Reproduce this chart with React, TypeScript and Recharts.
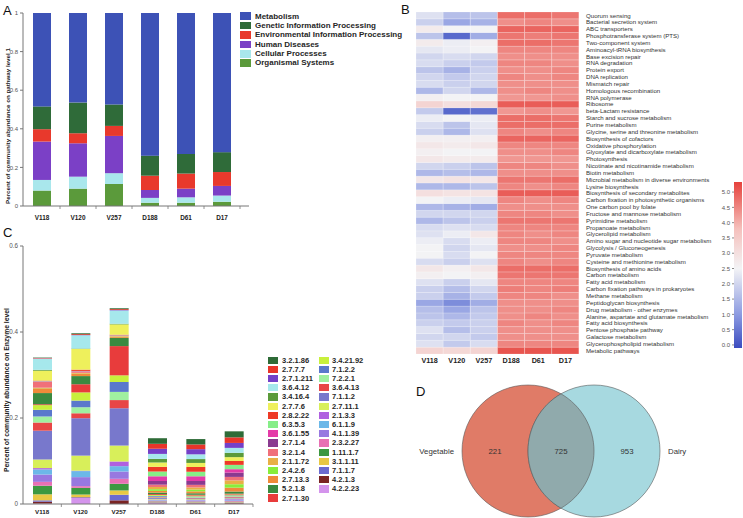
import React from 'react';
import { BarChart, Bar, XAxis, YAxis, Cell, ScatterChart, Scatter } from 'recharts';

const FONT = '"Liberation Sans", Arial, Helvetica, sans-serif';

const SAMPLES = ['V118', 'V120', 'V257', 'D188', 'D61', 'D17'];

// ---- A: pathway level 1 ----
const L1_NAMES = [
  'Metabolism',
  'Genetic Information Processing',
  'Environmental Information Processing',
  'Human Diseases',
  'Cellular Processes',
  'Organismal Systems',
];
const L1_COLORS = ['#3d52b6', '#2f6b39', '#e8392c', '#7b40c6', '#a9e7ec', '#5b9a3b'];
const METABOLISM = [0.484, 0.464, 0.474, 0.739, 0.73, 0.721];
const GENETIC = [0.118, 0.159, 0.111, 0.104, 0.102, 0.103];
const ENVIRONMENTAL = [0.064, 0.052, 0.052, 0.074, 0.078, 0.072];
const HUMAN = [0.199, 0.173, 0.193, 0.041, 0.045, 0.05];
const CELLULAR = [0.055, 0.062, 0.056, 0.025, 0.028, 0.032];
const ORGANISMAL = [0.08, 0.09, 0.114, 0.017, 0.017, 0.022];
const L1_SERIES = [METABOLISM, GENETIC, ENVIRONMENTAL, HUMAN, CELLULAR, ORGANISMAL];
const L1_TICKS = [0, 0.2, 0.4, 0.6, 0.8, 1];

// ---- B: heatmap of level 3 pathways ----
const PATHWAYS = [
  'Quorum sensing',
  'Bacterial secretion system',
  'ABC transporters',
  'Phosphotransferase system (PTS)',
  'Two-component system',
  'Aminoacyl-tRNA biosynthesis',
  'Base excision repair',
  'RNA degradation',
  'Protein export',
  'DNA replication',
  'Mismatch repair',
  'Homologous recombination',
  'RNA polymerase',
  'Ribosome',
  'beta-Lactam resistance',
  'Starch and sucrose metabolism',
  'Purine metabolism',
  'Glycine, serine and threonine metabolism',
  'Biosynthesis of cofactors',
  'Oxidative phosphorylation',
  'Glyoxylate and dicarboxylate metabolism',
  'Photosynthesis',
  'Nicotinate and nicotinamide metabolism',
  'Biotin metabolism',
  'Microbial metabolism in diverse environments',
  'Lysine biosynthesis',
  'Biosynthesis of secondary metabolites',
  'Carbon fixation in photosynthetic organisms',
  'One carbon pool by folate',
  'Fructose and mannose metabolism',
  'Pyrimidine metabolism',
  'Propanoate metabolism',
  'Glycerolipid metabolism',
  'Amino sugar and nucleotide sugar metabolism',
  'Glycolysis / Gluconeogenesis',
  'Pyruvate metabolism',
  'Cysteine and methionine metabolism',
  'Biosynthesis of amino acids',
  'Carbon metabolism',
  'Fatty acid metabolism',
  'Carbon fixation pathways in prokaryotes',
  'Methane metabolism',
  'Peptidoglycan biosynthesis',
  'Drug metabolism - other enzymes',
  'Alanine, aspartate and glutamate metabolism',
  'Fatty acid biosynthesis',
  'Pentose phosphate pathway',
  'Galactose metabolism',
  'Glycerophospholipid metabolism',
  'Metabolic pathways',
];
const HEAT_V118 = [2.2, 1.9, 2.7, 1.7, 2.7, 2.3, 2.0, 2.1, 1.7, 2.0, 2.1, 1.5, 2.6, 3.3, 1.8, 2.4, 2.1, 1.9, 2.6, 2.8, 2.6, 2.8, 2.0, 1.5, 2.8, 1.5, 3.0, 2.5, 1.5, 2.0, 1.5, 2.1, 2.2, 2.4, 2.5, 2.5, 2.1, 2.8, 2.6, 2.2, 1.9, 1.9, 1.2, 1.6, 1.7, 1.9, 2.2, 2.0, 2.2, 3.3];
const HEAT_V120 = [1.6, 1.2, 2.5, 0.3, 2.4, 2.4, 2.1, 1.9, 1.4, 1.8, 1.9, 2.0, 2.5, 3.0, 0.3, 2.5, 1.7, 1.5, 2.6, 2.7, 2.5, 2.7, 1.9, 1.6, 2.9, 1.5, 2.9, 2.4, 1.4, 2.0, 1.7, 2.2, 2.4, 2.1, 2.0, 2.1, 1.9, 2.6, 2.5, 1.9, 1.6, 1.4, 0.8, 1.2, 1.5, 1.8, 1.6, 2.0, 1.8, 3.2];
const HEAT_V257 = [1.7, 1.4, 2.5, 1.3, 2.6, 2.5, 2.0, 1.8, 1.9, 2.0, 2.0, 1.5, 2.5, 3.2, 0.4, 2.4, 2.3, 2.2, 2.6, 2.8, 2.5, 2.7, 1.7, 1.5, 2.8, 1.7, 2.9, 2.3, 1.3, 2.0, 1.9, 2.1, 2.8, 2.4, 2.3, 2.5, 2.2, 2.8, 2.6, 2.3, 2.0, 1.8, 1.3, 1.7, 1.8, 1.9, 1.9, 1.8, 2.1, 3.3];
const HEAT_D188 = [4.8, 4.4, 4.9, 4.7, 4.8, 4.5, 4.4, 4.5, 4.4, 4.5, 4.4, 4.4, 4.3, 5.0, 4.3, 4.8, 4.8, 4.5, 4.9, 4.5, 4.4, 4.3, 4.5, 4.4, 4.7, 4.5, 5.0, 4.5, 4.4, 4.5, 4.7, 4.5, 4.5, 4.5, 4.4, 4.5, 4.5, 4.8, 4.7, 4.5, 4.6, 4.5, 4.4, 4.4, 4.4, 4.5, 4.4, 4.4, 4.5, 5.1];
const HEAT_D61 = [4.8, 4.5, 4.9, 4.6, 4.8, 4.5, 4.4, 4.5, 4.4, 4.4, 4.4, 4.5, 4.3, 5.0, 4.4, 4.8, 4.8, 4.4, 4.9, 4.5, 4.4, 4.3, 4.5, 4.4, 4.7, 4.4, 5.0, 4.4, 4.4, 4.5, 4.7, 4.5, 4.4, 4.5, 4.4, 4.5, 4.4, 4.8, 4.7, 4.5, 4.5, 4.5, 4.4, 4.4, 4.5, 4.4, 4.4, 4.4, 4.5, 5.1];
const HEAT_D17 = [4.7, 4.4, 4.9, 4.7, 4.7, 4.5, 4.4, 4.4, 4.5, 4.5, 4.4, 4.4, 4.4, 5.0, 4.3, 4.7, 4.8, 4.5, 4.9, 4.5, 4.5, 4.3, 4.4, 4.4, 4.8, 4.5, 5.0, 4.5, 4.4, 4.4, 4.7, 4.5, 4.5, 4.4, 4.5, 4.5, 4.5, 4.8, 4.7, 4.5, 4.6, 4.4, 4.4, 4.5, 4.4, 4.5, 4.4, 4.4, 4.5, 5.1];
const HEAT_COLUMNS = [HEAT_V118, HEAT_V120, HEAT_V257, HEAT_D188, HEAT_D61, HEAT_D17];
const HEAT_TICKS = [0, 0.5, 1, 1.5, 2, 2.5, 3, 3.5, 4, 4.5, 5];
const HEAT_MIN = -0.1;
const HEAT_MAX = 5.33;
const HEAT_STOPS: [number, number[]][] = [
  [-0.1, [59, 76, 192]],
  [1.0, [140, 155, 225]],
  [2.5, [243, 243, 245]],
  [3.8, [245, 192, 188]],
  [5.33, [230, 66, 60]],
];

// ---- C: enzyme level ----
const ENZYMES = [
  '3.2.1.86', '2.7.7.7', '2.7.1.211', '3.6.4.12', '3.4.16.4', '2.7.7.6', '2.8.2.22', '6.3.5.3',
  '3.6.1.55', '2.7.1.4', '3.2.1.4', '2.1.1.72', '2.4.2.6', '2.7.13.3', '5.2.1.8', '2.7.1.30',
  '3.4.21.92', '7.1.2.2', '7.2.2.1', '3.6.4.13', '7.1.1.2', '2.7.11.1', '2.1.3.3', '6.1.1.9',
  '4.1.1.39', '2.3.2.27', '1.11.1.7', '3.1.1.11', '7.1.1.7', '4.2.1.3', '4.2.2.23',
];
const ENZYME_COLORS = [
  '#2e6b37', '#e8352a', '#7440c8', '#a6e8ec', '#5a9a3a', '#eef05c', '#ee3a26', '#86ee88',
  '#e43aa8', '#8a3a90', '#f0707a', '#e8b045', '#88ee3a', '#f08a3a', '#3a8a40', '#e83c3c',
  '#c8f03c', '#5a78cc', '#a0f0a0', '#e84646', '#7878cc', '#d8ef5a', '#b060e0', '#6cb8e8',
  '#9878e0', '#e870b4', '#3c9840', '#e8c844', '#6a6ad0', '#7a2424', '#d494ec',
];
const ENZ_V118 = [0.001, 0.001, 0.0005, 0.026, 0.002, 0.023, 0.001, 0.0005, 0.0005, 0.0005, 0.014, 0.001, 0.0005, 0.011, 0.026, 0.002, 0.011, 0.0155, 0.014, 0.019, 0.067, 0.02, 0.003, 0.012, 0.017, 0.009, 0.02, 0.014, 0.003, 0.0045, 0.001];
const ENZ_V120 = [0.002, 0.002, 0.0005, 0.031, 0.001, 0.048, 0.003, 0.0005, 0.0005, 0.0005, 0.003, 0.002, 0.0005, 0.005, 0.019, 0.019, 0.019, 0.0155, 0.014, 0.0115, 0.087, 0.035, 0.001, 0.014, 0.021, 0.004, 0.0155, 0.006, 0.001, 0.001, 0.014];
const ENZ_V257 = [0.002, 0.002, 0.001, 0.031, 0.0015, 0.024, 0.001, 0.0005, 0.0005, 0.0005, 0.001, 0.001, 0.001, 0.002, 0.019, 0.068, 0.0155, 0.023, 0.019, 0.019, 0.0868, 0.037, 0.0109, 0.0124, 0.017, 0.0116, 0.0155, 0.01, 0.013, 0.0085, 0];
const ENZ_D188 = [0.013, 0.0115, 0.012, 0.0115, 0.0085, 0.01, 0.011, 0.011, 0.011, 0.0085, 0.0055, 0.005, 0.004, 0.004, 0.0035, 0.002, 0.002, 0.002, 0.0015, 0.0015, 0.002, 0.0015, 0.001, 0.001, 0.001, 0.0015, 0.001, 0.001, 0.001, 0.001, 0.002];
const ENZ_D61 = [0.0125, 0.011, 0.012, 0.011, 0.009, 0.0095, 0.011, 0.0105, 0.011, 0.009, 0.006, 0.005, 0.004, 0.0045, 0.0035, 0.002, 0.002, 0.0015, 0.0015, 0.0015, 0.002, 0.0015, 0.001, 0.001, 0.001, 0.001, 0.001, 0.001, 0.001, 0.001, 0.0015];
const ENZ_D17 = [0.014, 0.013, 0.0115, 0.0115, 0.01, 0.009, 0.009, 0.01, 0.008, 0.01, 0.008, 0.009, 0.008, 0.009, 0.005, 0.002, 0.002, 0.0015, 0.0015, 0.002, 0.002, 0.0015, 0.0015, 0.0015, 0.0015, 0.0015, 0.001, 0.001, 0.001, 0.0015, 0.001];
const ENZ_BY_SAMPLE = [ENZ_V118, ENZ_V120, ENZ_V257, ENZ_D188, ENZ_D61, ENZ_D17];
const ENZ_TICKS = [0, 0.2, 0.4, 0.6];

// ---- D: Venn ----
const VENN_SETS = ['Vegetable', 'Dairy'];
const VENN_COUNTS = [221, 725, 953];

const fmtTick = (v: number) => (v === 0 ? '0' : v === 1 ? '1' : v.toFixed(1));

function heatColor(v: number) {
  for (let i = 1; i < HEAT_STOPS.length; i++) {
    const [v0, c0] = HEAT_STOPS[i - 1];
    const [v1, c1] = HEAT_STOPS[i];
    if (v <= v1 || i === HEAT_STOPS.length - 1) {
      const t = Math.max(0, Math.min(1, (v - v0) / (v1 - v0)));
      return `rgb(${c0.map((c, j) => Math.round(c + (c1[j] - c) * t)).join(',')})`;
    }
  }
  return '#fff';
}

// category tick: label plus a small mark on the band boundary
const CatTick = (p: any) => {
  const { x, payload, axisY, band, fs, off, marks } = p;
  return (
    <g>
      {marks && (
        <line x1={x + band / 2} x2={x + band / 2} y1={axisY} y2={axisY + 3} stroke="#777" strokeWidth={0.8} />
      )}
      <text x={x} y={axisY + off} textAnchor="middle" fontSize={fs} fontWeight="bold" fill="#222" fontFamily={FONT}>
        {payload.value}
      </text>
    </g>
  );
};

const RowTick = (p: any) => {
  const k = Math.round(PATHWAYS.length - 0.5 - p.payload.value);
  return (
    <text x={p.x} y={p.y} dy="0.35em" fontSize={6.1} fill="#333" fontFamily={FONT}>
      {PATHWAYS[k]}
    </text>
  );
};

function PanelA() {
  const data = SAMPLES.map((sample, i) => {
    const row: Record<string, any> = { sample };
    L1_SERIES.forEach((vals, k) => {
      row['s' + k] = vals[i];
    });
    return row;
  });
  const order = [5, 4, 3, 2, 1, 0];
  return (
    <BarChart width={255} height={230} data={data} margin={{ top: 13, right: 6, bottom: 0, left: 0 }}>
      <XAxis
        dataKey="sample"
        height={24}
        padding={{ left: 1, right: 9 }}
        stroke="#777"
        tickLine={false}
        interval={0}
        tick={<CatTick axisY={206} band={36} fs={6.4} off={14.3} marks />}
      />
      <YAxis
        domain={[0, 1]}
        ticks={L1_TICKS}
        width={23}
        tickSize={3}
        tickMargin={2}
        stroke="#777"
        tick={{ fontSize: 6, fill: '#555', fontFamily: FONT }}
        tickFormatter={fmtTick}
      />
      {order.map((k) => (
        <Bar key={k} dataKey={'s' + k} name={L1_NAMES[k]} stackId="a" fill={L1_COLORS[k]} barSize={18} isAnimationActive={false} />
      ))}
    </BarChart>
  );
}

function PanelB() {
  const data = SAMPLES.map((sample) => {
    const row: Record<string, any> = { sample };
    PATHWAYS.forEach((_, k) => {
      row['p' + k] = 1;
    });
    return row;
  });
  const ticks = PATHWAYS.map((_, k) => PATHWAYS.length - k - 0.5);
  const n = PATHWAYS.length;
  return (
    <BarChart width={363} height={372} data={data} margin={{ top: 12, right: 0, bottom: 0, left: 36 }} barCategoryGap="0%" barGap={0}>
      <XAxis
        dataKey="sample"
        height={18}
        axisLine={false}
        tickLine={false}
        interval={0}
        tick={<CatTick axisY={354} band={0} fs={7.2} off={8.6} />}
      />
      <YAxis
        orientation="right"
        type="number"
        domain={[0, n]}
        ticks={ticks}
        interval={0}
        width={164}
        axisLine={false}
        tickLine={false}
        tickSize={0}
        tickMargin={7}
        tick={<RowTick />}
      />
      {PATHWAYS.map((_, i) => {
        const k = n - 1 - i;
        return (
          <Bar key={k} dataKey={'p' + k} stackId="h" isAnimationActive={false}>
            {HEAT_COLUMNS.map((col, j) => (
              <Cell key={j} fill={heatColor(col[k])} stroke="#ffffff" strokeOpacity={0.45} strokeWidth={0.4} />
            ))}
          </Bar>
        );
      })}
    </BarChart>
  );
}

function ColorBar() {
  const span = HEAT_MAX - HEAT_MIN;
  return (
    <BarChart
      width={43}
      height={190}
      data={[{ k: 'scale', range: [HEAT_MIN, HEAT_MAX] }]}
      margin={{ top: 12, right: 1, bottom: 12, left: 0 }}
      barCategoryGap="0%"
    >
      <defs>
        <linearGradient id="heatGrad" x1="0" y1="0" x2="0" y2="1">
          {[...HEAT_STOPS].reverse().map(([v, c]) => (
            <stop key={v} offset={(HEAT_MAX - v) / span} stopColor={`rgb(${c.join(',')})`} />
          ))}
        </linearGradient>
      </defs>
      <XAxis dataKey="k" hide />
      <YAxis
        domain={[HEAT_MIN, HEAT_MAX]}
        ticks={HEAT_TICKS}
        width={34}
        tickSize={2}
        tickMargin={2}
        axisLine={false}
        stroke="#888"
        allowDataOverflow
        tick={{ fontSize: 6, fill: '#555', fontFamily: FONT }}
        tickFormatter={(v: number) => v.toFixed(1)}
      />
      <Bar dataKey="range" fill="url(#heatGrad)" isAnimationActive={false} />
    </BarChart>
  );
}

function PanelC() {
  const data = SAMPLES.map((sample, i) => {
    const row: Record<string, any> = { sample };
    ENZYMES.forEach((_, k) => {
      row['e' + k] = ENZ_BY_SAMPLE[i][k];
    });
    return row;
  });
  const n = ENZYMES.length;
  return (
    <BarChart width={258} height={278} data={data} margin={{ top: 6, right: 5, bottom: 0, left: 0 }}>
      <XAxis
        dataKey="sample"
        height={14}
        stroke="#777"
        tickLine={false}
        interval={0}
        tick={<CatTick axisY={264} band={38.33} fs={6.2} off={10.2} marks />}
      />
      <YAxis
        domain={[0, 0.6]}
        ticks={ENZ_TICKS}
        width={23}
        tickSize={3}
        tickMargin={2}
        stroke="#777"
        tick={{ fontSize: 6.3, fill: '#555', fontFamily: FONT }}
        tickFormatter={fmtTick}
      />
      {ENZYMES.map((_, i) => {
        const k = n - 1 - i;
        return (
          <Bar key={k} dataKey={'e' + k} name={ENZYMES[k]} stackId="c" fill={ENZYME_COLORS[k]} barSize={19} isAnimationActive={false} />
        );
      })}
    </BarChart>
  );
}

function PanelD() {
  const R = 66;
  const circles = VENN_SETS.map((name, i) => ({ name, x: i === 0 ? -0.5 : 0.5, y: 0 }));
  const regions = VENN_COUNTS.map((count, i) => ({ count, x: i - 1, y: 0 }));
  const circleShape = (p: any) => {
    const left = p.payload.name === VENN_SETS[0];
    return (
      <g>
        <circle cx={p.cx} cy={p.cy} r={R} fill={left ? '#e07b67' : '#a7d9e0'} stroke="#5a5a5a" strokeWidth={0.6} />
        <text
          x={left ? p.cx - R - 8 : p.cx + R + 8}
          y={p.cy}
          dy="0.35em"
          textAnchor={left ? 'end' : 'start'}
          fontSize={7.8}
          fill="#333"
          fontFamily={FONT}
        >
          {p.payload.name}
        </text>
      </g>
    );
  };
  const regionShape = (p: any) => {
    const h = (R * Math.sqrt(3)) / 2;
    const mid = p.payload.x === 0;
    return (
      <g>
        {mid && (
          <path
            d={`M${p.cx},${p.cy - h} A${R},${R} 0 0 1 ${p.cx},${p.cy + h} A${R},${R} 0 0 1 ${p.cx},${p.cy - h} Z`}
            fill="#90aaac"
            stroke="#5a5a5a"
            strokeWidth={0.6}
          />
        )}
        <text x={p.cx} y={p.cy} dy="0.35em" textAnchor="middle" fontSize={7.8} fill="#333" fontFamily={FONT}>
          {p.payload.count}
        </text>
      </g>
    );
  };
  return (
    <ScatterChart width={330} height={142} margin={{ top: 5, right: 0, bottom: 5, left: 0 }}>
      <XAxis type="number" dataKey="x" domain={[-2.5, 2.5]} hide />
      <YAxis type="number" dataKey="y" domain={[-1, 1]} hide />
      <Scatter data={circles} shape={circleShape} isAnimationActive={false} />
      <Scatter data={regions} shape={regionShape} isAnimationActive={false} />
    </ScatterChart>
  );
}

const abs = (left: number, top: number): React.CSSProperties => ({ position: 'absolute', left, top });

const Letter = ({ ch, left, top }: { ch: string; left: number; top: number }) => (
  <div style={{ ...abs(left, top), fontSize: 13, lineHeight: '13px', color: '#111' }}>{ch}</div>
);

const VTitle = ({ text, cx, cy, size }: { text: string; cx: number; cy: number; size: number }) => (
  <div
    style={{
      ...abs(cx, cy),
      transform: 'translate(-50%, -50%) rotate(-90deg)',
      whiteSpace: 'nowrap',
      fontSize: size,
      fontWeight: 'bold',
      color: '#222',
      lineHeight: 1,
    }}
  >
    {text}
  </div>
);

const LegendRow = ({ color, label, fs, h, sw, sh, gap }: any) => (
  <div style={{ display: 'flex', alignItems: 'center', height: h }}>
    <span style={{ display: 'inline-block', width: sw, height: sh, background: color, marginRight: gap, flex: 'none' }} />
    <span style={{ fontSize: fs, fontWeight: 'bold', color: '#262626', whiteSpace: 'nowrap', lineHeight: `${h}px` }}>{label}</span>
  </div>
);

export default function App() {
  const col1 = ENZYMES.slice(0, 16);
  const col2 = ENZYMES.slice(16);
  return (
    <div style={{ position: 'absolute', left: 0, top: 0, width: 743, height: 518, background: '#fff', fontFamily: FONT, overflow: 'hidden' }}>
      <div style={abs(0, 0)}>
        <PanelA />
      </div>
      <div style={abs(380, 0)}>
        <PanelB />
      </div>
      <div style={abs(700, 170)}>
        <ColorBar />
      </div>
      <div style={abs(0, 240)}>
        <PanelC />
      </div>
      <div style={abs(396, 380)}>
        <PanelD />
      </div>

      <VTitle text="Percent of community abundance on pathway level 1" cx={8} cy={125.5} size={6.2} />
      <VTitle text="Percent of community abundance on Enzyme level" cx={6.5} cy={390} size={6.8} />

      <div style={abs(240, 11.5)}>
        {L1_NAMES.map((n, k) => (
          <LegendRow key={n} color={L1_COLORS[k]} label={n} fs={8} h={9.4} sw={11} sh={7.5} gap={4} />
        ))}
      </div>

      <div style={abs(268, 355.7)}>
        {col1.map((n, k) => (
          <LegendRow key={n} color={ENZYME_COLORS[k]} label={n} fs={7.5} h={9.2} sw={10} sh={7.3} gap={4} />
        ))}
      </div>
      <div style={abs(319, 355.7)}>
        {col2.map((n, k) => (
          <LegendRow key={n} color={ENZYME_COLORS[k + 16]} label={n} fs={7.5} h={9.2} sw={10} sh={7.3} gap={3} />
        ))}
      </div>

      <Letter ch="A" left={3} top={4.3} />
      <Letter ch="B" left={401} top={3.3} />
      <Letter ch="C" left={3} top={226} />
      <Letter ch="D" left={416} top={385} />
    </div>
  );
}
